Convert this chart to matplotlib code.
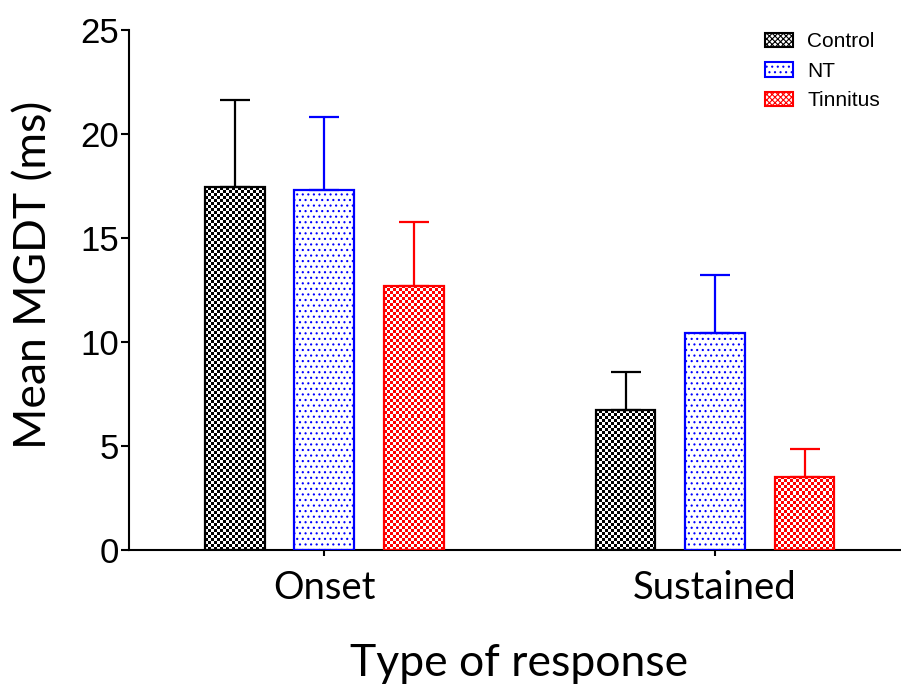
"""Mean MGDT by type of response, grouped bar chart."""

import numpy as np
import matplotlib
matplotlib.use("Agg")
import matplotlib.pyplot as plt
from matplotlib.colors import ListedColormap, to_rgba
from matplotlib.patches import Patch

# data
groups = ["Onset", "Sustained"]
series = ["Control", "NT", "Tinnitus"]
control_mean = [17.45, 6.73]
control_err = [4.18, 1.83]
nt_mean = [17.30, 10.43]
nt_err = [3.50, 2.79]
tinnitus_mean = [12.70, 3.51]
tinnitus_err = [3.07, 1.35]

means = [control_mean, nt_mean, tinnitus_mean]
errs = [control_err, nt_err, tinnitus_err]
colors = ["black", "#0000ff", "#ff0000"]
fills = ["checker", "dots", "checker"]

LABEL_FONT = ["Lato", "DejaVu Sans"]
TICK_FONT = ["Liberation Sans", "DejaVu Sans"]

plt.rcParams["hatch.linewidth"] = 0.8

fig = plt.figure(figsize=(9.01, 6.84), dpi=100)
ax = fig.add_axes([129 / 901, 134 / 684, 772 / 901, 520 / 684])

x = np.arange(len(groups))
offset = 0.229
width = 0.153

ax.set_xlim(-0.5, 1.476)
ax.set_ylim(0, 25)

bars_all = []
for i, (m, e, c) in enumerate(zip(means, errs, colors)):
    pos = x + (i - 1) * offset
    bars = ax.bar(pos, m, width, facecolor="none", edgecolor=c, linewidth=1.6,
                  hatch="..." if fills[i] == "dots" else None, zorder=3)
    for b in bars:
        b._hatch_color = to_rgba(c)
    ax.errorbar(pos, m, yerr=[np.zeros(len(m)), e], fmt="none", ecolor=c,
                elinewidth=1.6, capsize=11, capthick=1.6, zorder=2)
    bars_all.append(bars)

# checkerboard fill drawn as small images clipped to bars
fig.canvas.draw()
cell = 3.0
for i, bars in enumerate(bars_all):
    if fills[i] != "checker":
        continue
    cmap = ListedColormap(["white", colors[i]])
    for b in bars:
        x0, y0 = b.get_x(), b.get_y()
        x1, y1 = x0 + b.get_width(), y0 + b.get_height()
        p0 = ax.transData.transform((x0, y0))
        p1 = ax.transData.transform((x1, y1))
        nc = max(1, int(round((p1[0] - p0[0]) / cell)))
        nr = max(1, int(round((p1[1] - p0[1]) / cell)))
        board = (np.add.outer(np.arange(nr), np.arange(nc)) % 2).astype(float)
        im = ax.imshow(board, cmap=cmap, extent=(x0, x1, y0, y1), origin="lower",
                       interpolation="nearest", aspect="auto", zorder=1)
        im.set_clip_path(b)
ax.set_xlim(-0.5, 1.476)
ax.set_ylim(0, 25)

# axes styling
for side in ["top", "right"]:
    ax.spines[side].set_visible(False)
for side in ["left", "bottom"]:
    ax.spines[side].set_linewidth(1.5)

ax.set_yticks([0, 5, 10, 15, 20, 25])
ax.set_xticks(x)
ax.set_xticklabels(groups, fontsize=27.5, family=LABEL_FONT)
for lab in ax.get_yticklabels():
    lab.set_family(TICK_FONT)
    lab.set_fontsize(25)
ax.tick_params(axis="y", direction="out", length=6, width=1.5, pad=1)
ax.tick_params(axis="x", direction="out", length=4.5, width=1.5, pad=10)

ax.set_ylabel("Mean MGDT (ms)", fontsize=32, family=LABEL_FONT)
ax.yaxis.set_label_coords((54 - 129) / 772, 0.529)
ax.set_xlabel("Type of response", fontsize=32, family=LABEL_FONT)
ax.xaxis.set_label_coords(0.505, (550 - 643) / 520)

# legend
handles = []
for i, s in enumerate(series):
    h = Patch(facecolor="white", edgecolor=colors[i], linewidth=1.5,
              hatch="..." if fills[i] == "dots" else "xxxxxx", label=s)
    handles.append(h)
leg = ax.legend(handles=handles, loc="upper left", bbox_to_anchor=(755 / 901, 1 - 22 / 684),
                bbox_transform=fig.transFigure, frameon=False, borderpad=0,
                prop={"family": TICK_FONT, "size": 15}, handlelength=1.3,
                handleheight=0.67, handletextpad=0.72, labelspacing=0.5)
for h, c in zip(leg.legend_handles, colors):
    h._hatch_color = to_rgba(c)

fig.savefig("out.png", dpi=100)
plt.close(fig)
